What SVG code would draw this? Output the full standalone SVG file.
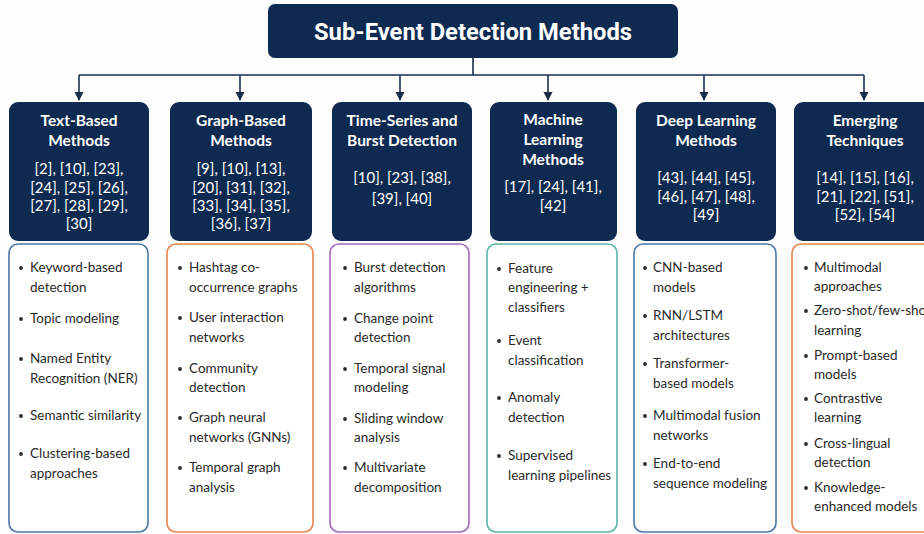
<svg xmlns="http://www.w3.org/2000/svg" width="924" height="534" viewBox="0 0 924 534">
  <defs>
    <marker id="arrow" markerWidth="10" markerHeight="10" refX="8" refY="5" orient="auto" markerUnits="userSpaceOnUse">
      <path d="M0,0.5 L9,5 L0,9.5 Z" fill="#1b2f4d"/>
    </marker>
    <style>
      .hdr { fill: #0e2a50; }
      .title { font-family: Roboto, "Liberation Sans", sans-serif; font-weight: 700; font-size: 24px; fill: #ffffff; text-anchor: middle; }
      .htxt { font-family: Lato, "Liberation Sans", sans-serif; font-weight: 700; font-size: 15.5px; fill: #ffffff; text-anchor: middle; }
      .ref { font-family: Lato, "Liberation Sans", sans-serif; font-size: 15px; fill: #ffffff; text-anchor: middle; }
      .body { fill: #ffffff; stroke-width: 1.6; }
      .item { font-family: Lato, "Liberation Sans", sans-serif; font-size: 13.5px; fill: #2a2a2a; }
      .dot { fill: #2a2a2a; }
      .link { fill: none; stroke: #1b2f4d; stroke-width: 1.6; }
    </style>
  </defs>

  <rect width="924" height="534" fill="#fdfdfd"/>

  <!-- root -->
  <g id="root">
    <rect class="hdr" x="268" y="4" width="410" height="54" rx="7"/>
    <text class="title" x="473" y="40" textLength="318" lengthAdjust="spacingAndGlyphs">Sub-Event Detection Methods</text>
  </g>

  <!-- connectors -->
  <g id="connectors">
    <path class="link" d="M473,58 V75 M79,75 H864"/>
    <path class="link" d="M79,75 V100" marker-end="url(#arrow)"/>
    <path class="link" d="M240,75 V100" marker-end="url(#arrow)"/>
    <path class="link" d="M400,75 V100" marker-end="url(#arrow)"/>
    <path class="link" d="M548,75 V100" marker-end="url(#arrow)"/>
    <path class="link" d="M704,75 V100" marker-end="url(#arrow)"/>
    <path class="link" d="M864,75 V100" marker-end="url(#arrow)"/>
  </g>

  <!-- Text-Based Methods -->
  <g id="text-based">
    <rect class="hdr" x="9" y="102" width="140" height="139" rx="9"/>
    <text class="htxt" x="79" y="126">Text-Based</text>
    <text class="htxt" x="79" y="146">Methods</text>
    <text class="ref" x="79" y="174">[2], [10], [23],</text>
    <text class="ref" x="79" y="193">[24], [25], [26],</text>
    <text class="ref" x="79" y="211">[27], [28], [29],</text>
    <text class="ref" x="79" y="229">[30]</text>
    <rect class="body" x="9" y="244" width="139" height="288" rx="9" stroke="#4a76a8"/>
    <g class="item">
      <circle class="dot" cx="21" cy="268" r="1.9"/><text x="30" y="272">Keyword-based</text><text x="30" y="292">detection</text>
      <circle class="dot" cx="21" cy="319" r="1.9"/><text x="30" y="323">Topic modeling</text>
      <circle class="dot" cx="21" cy="359" r="1.9"/><text x="30" y="363">Named Entity</text><text x="30" y="383">Recognition (NER)</text>
      <circle class="dot" cx="21" cy="416" r="1.9"/><text x="30" y="420">Semantic similarity</text>
      <circle class="dot" cx="21" cy="454" r="1.9"/><text x="30" y="458">Clustering-based</text><text x="30" y="478">approaches</text>
    </g>
  </g>

  <!-- Graph-Based Methods -->
  <g id="graph-based">
    <rect class="hdr" x="170" y="102" width="142" height="139" rx="9"/>
    <text class="htxt" x="241" y="126">Graph-Based</text>
    <text class="htxt" x="241" y="146">Methods</text>
    <text class="ref" x="241" y="174">[9], [10], [13],</text>
    <text class="ref" x="241" y="193">[20], [31], [32],</text>
    <text class="ref" x="241" y="211">[33], [34], [35],</text>
    <text class="ref" x="241" y="229">[36], [37]</text>
    <rect class="body" x="167" y="244" width="146" height="288" rx="9" stroke="#e8834a"/>
    <g class="item">
      <circle class="dot" cx="180" cy="268" r="1.9"/><text x="189" y="272">Hashtag co-</text><text x="189" y="292">occurrence graphs</text>
      <circle class="dot" cx="180" cy="318" r="1.9"/><text x="189" y="322">User interaction</text><text x="189" y="342">networks</text>
      <circle class="dot" cx="180" cy="369" r="1.9"/><text x="189" y="373">Community</text><text x="189" y="392">detection</text>
      <circle class="dot" cx="180" cy="418" r="1.9"/><text x="189" y="422">Graph neural</text><text x="189" y="442">networks (GNNs)</text>
      <circle class="dot" cx="180" cy="468" r="1.9"/><text x="189" y="472">Temporal graph</text><text x="189" y="492">analysis</text>
    </g>
  </g>

  <!-- Time-Series and Burst Detection -->
  <g id="time-series">
    <rect class="hdr" x="332" y="102" width="140" height="139" rx="9"/>
    <text class="htxt" x="402" y="126">Time-Series and</text>
    <text class="htxt" x="402" y="146">Burst Detection</text>
    <text class="ref" x="402" y="183">[10], [23], [38],</text>
    <text class="ref" x="402" y="204">[39], [40]</text>
    <rect class="body" x="330" y="244" width="139" height="288" rx="9" stroke="#a569bd"/>
    <g class="item">
      <circle class="dot" cx="345" cy="268" r="1.9"/><text x="354" y="272">Burst detection</text><text x="354" y="292">algorithms</text>
      <circle class="dot" cx="345" cy="319" r="1.9"/><text x="354" y="323">Change point</text><text x="354" y="342">detection</text>
      <circle class="dot" cx="345" cy="369" r="1.9"/><text x="354" y="373">Temporal signal</text><text x="354" y="392">modeling</text>
      <circle class="dot" cx="345" cy="419" r="1.9"/><text x="354" y="423">Sliding window</text><text x="354" y="442">analysis</text>
      <circle class="dot" cx="345" cy="468" r="1.9"/><text x="354" y="472">Multivariate</text><text x="354" y="492">decomposition</text>
    </g>
  </g>

  <!-- Machine Learning Methods -->
  <g id="machine-learning">
    <rect class="hdr" x="490" y="102" width="127" height="139" rx="9"/>
    <text class="htxt" x="553" y="125">Machine</text>
    <text class="htxt" x="553" y="145">Learning</text>
    <text class="htxt" x="553" y="165">Methods</text>
    <text class="ref" x="553" y="192">[17], [24], [41],</text>
    <text class="ref" x="553" y="211">[42]</text>
    <rect class="body" x="487" y="244" width="130" height="288" rx="9" stroke="#5ab5a5"/>
    <g class="item">
      <circle class="dot" cx="499" cy="269" r="1.9"/><text x="508" y="273">Feature</text><text x="508" y="292">engineering +</text><text x="508" y="312">classifiers</text>
      <circle class="dot" cx="499" cy="341" r="1.9"/><text x="508" y="345">Event</text><text x="508" y="365">classification</text>
      <circle class="dot" cx="499" cy="398" r="1.9"/><text x="508" y="402">Anomaly</text><text x="508" y="422">detection</text>
      <circle class="dot" cx="499" cy="456" r="1.9"/><text x="508" y="460">Supervised</text><text x="508" y="480">learning pipelines</text>
    </g>
  </g>

  <!-- Deep Learning Methods -->
  <g id="deep-learning">
    <rect class="hdr" x="636" y="102" width="140" height="139" rx="9"/>
    <text class="htxt" x="706" y="126">Deep Learning</text>
    <text class="htxt" x="706" y="146">Methods</text>
    <text class="ref" x="706" y="183">[43], [44], [45],</text>
    <text class="ref" x="706" y="202">[46], [47], [48],</text>
    <text class="ref" x="706" y="220">[49]</text>
    <rect class="body" x="634" y="244" width="142" height="288" rx="9" stroke="#4a76a8"/>
    <g class="item">
      <circle class="dot" cx="645" cy="268" r="1.9"/><text x="653" y="272">CNN-based</text><text x="653" y="292">models</text>
      <circle class="dot" cx="645" cy="316" r="1.9"/><text x="653" y="320">RNN/LSTM</text><text x="653" y="340">architectures</text>
      <circle class="dot" cx="645" cy="364" r="1.9"/><text x="653" y="368">Transformer-</text><text x="653" y="388">based models</text>
      <circle class="dot" cx="645" cy="416" r="1.9"/><text x="653" y="420">Multimodal fusion</text><text x="653" y="440">networks</text>
      <circle class="dot" cx="645" cy="464" r="1.9"/><text x="653" y="468">End-to-end</text><text x="653" y="488">sequence modeling</text>
    </g>
  </g>

  <!-- Emerging Techniques -->
  <g id="emerging">
    <rect class="hdr" x="794" y="102" width="142" height="139" rx="9"/>
    <text class="htxt" x="865" y="126">Emerging</text>
    <text class="htxt" x="865" y="146">Techniques</text>
    <text class="ref" x="865" y="183">[14], [15], [16],</text>
    <text class="ref" x="865" y="202">[21], [22], [51],</text>
    <text class="ref" x="865" y="220">[52], [54]</text>
    <rect class="body" x="792" y="244" width="144" height="288" rx="9" stroke="#e8834a"/>
    <g class="item">
      <circle class="dot" cx="806" cy="268" r="1.9"/><text x="814" y="272">Multimodal</text><text x="814" y="291">approaches</text>
      <circle class="dot" cx="806" cy="311" r="1.9"/><text x="814" y="315">Zero-shot/few-shot</text><text x="814" y="335">learning</text>
      <circle class="dot" cx="806" cy="356" r="1.9"/><text x="814" y="360">Prompt-based</text><text x="814" y="379">models</text>
      <circle class="dot" cx="806" cy="399" r="1.9"/><text x="814" y="403">Contrastive</text><text x="814" y="422">learning</text>
      <circle class="dot" cx="806" cy="444" r="1.9"/><text x="814" y="448">Cross-lingual</text><text x="814" y="467">detection</text>
      <circle class="dot" cx="806" cy="488" r="1.9"/><text x="814" y="492">Knowledge-</text><text x="814" y="511">enhanced models</text>
    </g>
  </g>
</svg>
